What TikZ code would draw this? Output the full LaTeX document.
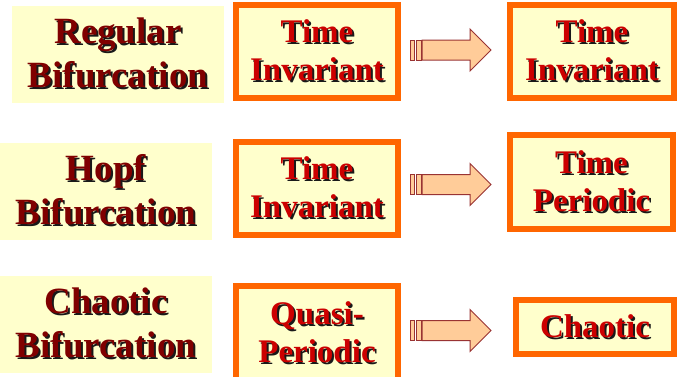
\documentclass[tikz,border=0pt]{standalone}
\usepackage{fontspec}
\usepackage{graphicx}
\setmainfont{Liberation Serif}
\definecolor{paleyellow}{HTML}{FFFFCC}
\definecolor{boxorange}{HTML}{FF6600}
\definecolor{labelmaroon}{HTML}{800000}
\definecolor{boxred}{HTML}{CC0000}
\definecolor{arrowfill}{HTML}{FFCC99}
\definecolor{arrowline}{HTML}{993333}
\newcommand\shd[1]{\makebox[0pt][l]{\kern2pt\raisebox{-2pt}{\color{black!90}#1}}#1}
\tikzset{
  label box/.style={rectangle, fill=paleyellow, draw=none, minimum width=212pt, minimum height=97pt,
    inner sep=0pt, align=center, text=labelmaroon, font=\bfseries\fontsize{37}{44}\selectfont},
  state box/.style={rectangle, fill=paleyellow, draw=boxorange, line width=6pt, inner sep=0pt,
    align=center, text=boxred, font=\bfseries\fontsize{33}{38}\selectfont},
  block arrow/.style={fill=arrowfill, draw=arrowline, line width=1pt, line join=miter}
}
\newcommand\blockarrow[1]{%
  \draw[block arrow] (410,#1-10) rectangle (414,#1+10);
  \draw[block arrow] (416,#1-10) rectangle (421,#1+10);
  \draw[block arrow] (422,#1-10) -- (470,#1-10) -- (470,#1-21) -- (491,#1) -- (470,#1+21) -- (470,#1+10) -- (422,#1+10) -- cycle;
}
\begin{document}
\begin{tikzpicture}[x=1pt,y=-1pt]
\useasboundingbox (0,0) rectangle (681,376);
\clip (0,0) rectangle (681,376);
% row 1
\node[label box] (L1) at (118,54) {\shd{Regular}\\\shd{Bifurcation}};
\node[state box, minimum width=162pt, minimum height=93pt] (A1) at (317,51.5) {\shd{Time}\\\shd{Invariant}};
\node[state box, minimum width=164pt, minimum height=93pt] (B1) at (592,51.5) {\shd{Time}\\\shd{Invariant}};
\blockarrow{50}
% row 2
\node[label box] (L2) at (106,191) {\shd{Hopf}\\\shd{Bifurcation}};
\node[state box, minimum width=162pt, minimum height=93pt] (A2) at (317,188.5) {\shd{Time}\\\shd{Invariant}};
\node[state box, minimum width=163pt, minimum height=94pt] (B2) at (591.5,182) {\shd{Time}\\\shd{Periodic}};
\blockarrow{184.5}
% row 3
\node[label box] (L3) at (106,324) {\shd{Chaotic}\\\shd{Bifurcation}};
\node[state box, minimum width=162pt, minimum height=96pt] (A3) at (317,334) {\raisebox{3pt}{\shd{Quasi-}}\\\raisebox{3pt}{\shd{Periodic}}};
\node[state box, minimum width=158pt, minimum height=54pt] (C3) at (595,327) {\shd{Chaotic}};
\blockarrow{330.5}
\end{tikzpicture}
\end{document}
